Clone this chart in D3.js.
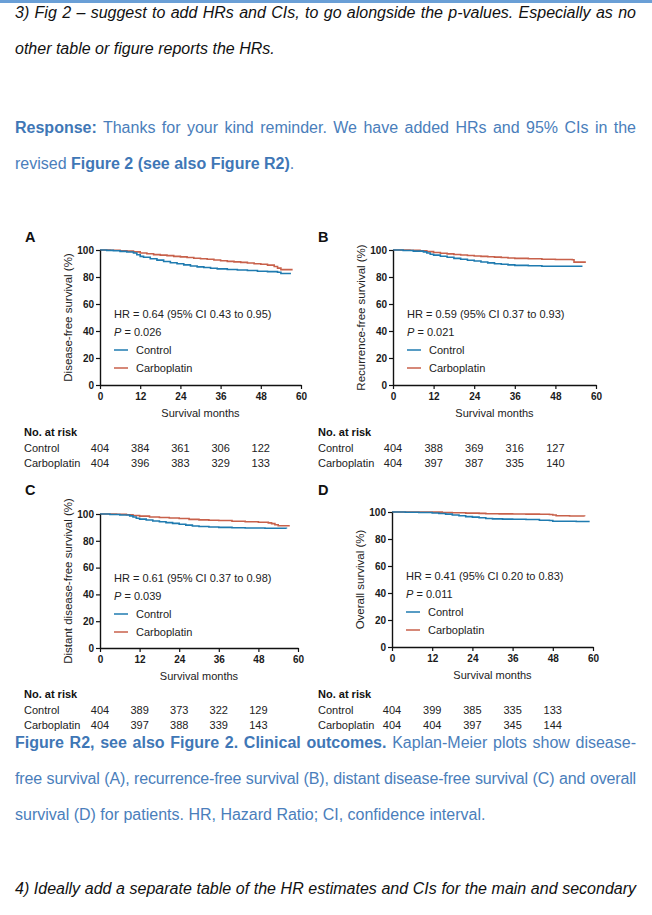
<!DOCTYPE html>
<html>
<head>
<meta charset="utf-8">
<script src="https://cdn.jsdelivr.net/npm/d3@7"></script>
<style>
  body { margin: 0; width: 652px; height: 915px; position: relative; background: #fff; overflow: hidden;
         font-family: "Liberation Sans", Arial, sans-serif; }
  #bar { position: absolute; left: 0; top: 0; width: 652px; height: 3px; background: #6a9fd6; }
  .para { position: absolute; left: 15px; width: 621px; font-size: 16px; line-height: 36px; }
  .j { text-align: justify; text-align-last: justify; }
  .tight { letter-spacing: -0.15px; }
  .q { font-style: italic; color: #111; }
  .blue { color: #4a7ebb; }
  .blue b { color: #3f77b6; }
  svg { position: absolute; left: 0; top: 0; }
</style>
</head>
<body>
<div id="bar"></div>
<div class="para q" style="top:-5px">
  <div class="j">3) Fig 2 – suggest to add HRs and CIs, to go alongside the p-values. Especially as no</div>
  <div>other table or figure reports the HRs.</div>
</div>
<div class="para blue" style="top:110px">
  <div class="j"><b>Response:</b> Thanks for your kind reminder. We have added HRs and 95% CIs in the</div>
  <div>revised <b>Figure 2 (see also Figure R2)</b>.</div>
</div>
<div class="para blue" style="top:725px">
  <div class="j"><b>Figure R2, see also Figure 2. Clinical outcomes.</b> Kaplan-Meier plots show disease-</div>
  <div class="j tight">free survival (A), recurrence-free survival (B), distant disease-free survival (C) and overall</div>
  <div>survival (D) for patients. HR, Hazard Ratio; CI, confidence interval.</div>
</div>
<div class="para q" style="top:871px">
  <div class="j">4) Ideally add a separate table of the HR estimates and CIs for the main and secondary</div>
</div>
<div id="chart"></div>
<script>
// shared axis values
var months = [0, 12, 24, 36, 48, 60];
var riskMonths = [0, 12, 24, 36, 48];
var yTicks = [0, 20, 40, 60, 80, 100];
var groups = ["Control", "Carboplatin"];
var colors = ["#1f7bb0", "#c8614b"];

// curves: [month, survival %]
var dfsControl = [[0,100],[2,99.7],[4,99.4],[6,99],[8,98.5],[10,97.8],[11,96.5],[12,95.3],[13,94.6],[15,93.5],[17,92.5],[19,91.5],[21,90.6],[23,89.8],[25,89],[27,88.2],[29,87.5],[31,87],[33,86.5],[35,86],[38,85.6],[41,85.2],[44,84.8],[47,84.3],[50,84],[53,83.5],[54,82.6],[57,82.6]];
var dfsCarbo = [[0,100],[3,99.8],[6,99.5],[8,99.2],[10,98.6],[12,97.8],[14,97.2],[16,96.6],[18,96.2],[20,95.8],[22,95.3],[24,94.9],[26,94.4],[28,93.9],[30,93.5],[32,93.1],[34,92.6],[36,92],[38,91.6],[40,91.2],[42,90.8],[44,90.4],[46,89.8],[48,89.4],[50,88.8],[52,87.8],[53,86.6],[54,85.5],[57.5,85.5]];

var rfsControl = [[0,100],[3,99.6],[6,99.2],[9,98.6],[10,97.8],[11,96.8],[12,96.2],[14,95.4],[16,94.6],[18,93.8],[20,93.1],[22,92.4],[24,91.8],[26,91.1],[28,90.5],[30,89.8],[32,89.4],[34,89],[36,88.6],[40,88.3],[44,88],[50,88],[56,88]];
var rfsCarbo = [[0,100],[5,99.8],[8,99.5],[10,98.8],[12,98.2],[14,97.6],[16,97.1],[18,96.7],[20,96.3],[22,95.9],[24,95.6],[26,95.3],[28,95],[30,94.7],[32,94.4],[34,94.1],[36,93.8],[40,93.5],[44,93.2],[48,93],[53,92.8],[53.5,91],[57,91]];

var ddfsControl = [[0,100],[3,99.6],[6,99.2],[9,98.6],[10,97.8],[11,96.8],[12,96.2],[14,95.5],[16,94.8],[18,94.2],[20,93.6],[22,93],[24,92.4],[26,91.7],[28,91.1],[30,90.7],[33,90.3],[36,90],[40,89.7],[44,89.5],[50,89.4],[56.5,89.2]];
var ddfsCarbo = [[0,100],[5,99.8],[8,99.4],[10,98.9],[12,98.4],[15,97.8],[18,97.4],[21,97],[24,96.6],[27,96],[30,95.6],[33,95.3],[36,95.1],[40,94.6],[44,94.2],[48,93.8],[51,93.4],[52,92.8],[53,92],[54,91.2],[57.5,91.2]];

var osControl = [[0,100],[4,99.8],[8,99.6],[12,99.3],[14,98.9],[16,98.4],[18,97.8],[20,97.2],[22,96.6],[24,96.2],[26,95.7],[28,95.2],[30,94.9],[33,94.7],[36,94.6],[40,94.5],[43,94.4],[44,93.9],[47,93.7],[48,93.2],[52,93.1],[55,93],[59,93]];
var osCarbo = [[0,100],[12,99.9],[15,99.6],[18,99.4],[22,99.2],[26,99],[28,98.7],[32,98.6],[36,98.5],[40,98.4],[44,98.3],[47,98.2],[48,97.8],[49,97.2],[53,97],[57.5,96.8]];

// numbers at risk
var riskA = [[404, 384, 361, 306, 122], [404, 396, 383, 329, 133]];
var riskB = [[404, 388, 369, 316, 127], [404, 397, 387, 335, 140]];
var riskC = [[404, 389, 373, 322, 129], [404, 397, 388, 339, 143]];
var riskD = [[404, 399, 385, 335, 133], [404, 404, 397, 345, 144]];

var panelLetters = ["A", "B", "C", "D"];
var yLabels = ["Disease-free survival (%)", "Recurrence-free survival (%)",
               "Distant disease-free survival (%)", "Overall survival (%)"];
var hrTexts = ["HR = 0.64 (95% CI 0.43 to 0.95)", "HR = 0.59 (95% CI 0.37 to 0.93)",
               "HR = 0.61 (95% CI 0.37 to 0.98)", "HR = 0.41 (95% CI 0.20 to 0.83)"];
var pValues = ["0.026", "0.021", "0.039", "0.011"];
var curves = [[dfsControl, dfsCarbo], [rfsControl, rfsCarbo], [ddfsControl, ddfsCarbo], [osControl, osCarbo]];
var risks = [riskA, riskB, riskC, riskD];

// where each panel sits on the page
var layout = [
  {x0: 100, x1: 301, y0: 250, y1: 385, lx: 25, ly: 242, tx: 24, ty: 436},
  {x0: 393, x1: 596, y0: 250, y1: 385, lx: 318, ly: 242, tx: 318, ty: 436},
  {x0: 100, x1: 298, y0: 514, y1: 648, lx: 25, ly: 495, tx: 24, ty: 698},
  {x0: 392, x1: 593, y0: 512, y1: 647, lx: 318, ly: 495, tx: 318, ty: 698}
];

var font = '"Liberation Sans", Arial, sans-serif';
var svg = d3.select("#chart").append("svg").attr("width", 652).attr("height", 915)
  .style("font-family", font);

function drawPanel(i) {
  var b = layout[i];
  var g = svg.append("g");
  var x = d3.scaleLinear().domain([0, 60]).range([b.x0, b.x1]);
  var y = d3.scaleLinear().domain([0, 100]).range([b.y1, b.y0]);

  g.append("text").attr("x", b.lx).attr("y", b.ly).text(panelLetters[i])
    .style("font-weight", "bold").style("font-size", "14.5px").attr("fill", "#111");

  var line = d3.line().x(d => x(d[0])).y(d => y(d[1])).curve(d3.curveStepAfter);
  // carboplatin first so control sits on top where they overlap
  [1, 0].forEach(function (k) {
    g.append("path").datum(curves[i][k]).attr("d", line)
      .attr("fill", "none").attr("stroke", colors[k]).attr("stroke-width", 1.6);
  });

  var ya = g.append("g").attr("transform", "translate(" + b.x0 + ",0)")
    .call(d3.axisLeft(y).tickValues(yTicks).tickSize(4).tickSizeOuter(0).tickPadding(2));
  var xa = g.append("g").attr("transform", "translate(0," + b.y1 + ")")
    .call(d3.axisBottom(x).tickValues(months).tickSize(4).tickSizeOuter(0).tickPadding(4));
  [ya, xa].forEach(function (a) {
    a.select(".domain").attr("stroke", "#111").attr("stroke-width", 1.4);
    a.selectAll(".tick line").attr("stroke", "#111").attr("stroke-width", 1.2);
    a.selectAll("text").attr("fill", "#1a1a1a").style("font-weight", "bold")
      .style("font-size", "10px").style("font-family", font);
  });

  g.append("text").attr("x", (b.x0 + b.x1) / 2).attr("y", b.y1 + 32)
    .attr("text-anchor", "middle").style("font-size", "11px").attr("fill", "#222")
    .text("Survival months");
  g.append("text")
    .attr("transform", "translate(" + (b.x0 - 28) + "," + ((b.y0 + b.y1) / 2) + ") rotate(-90)")
    .attr("text-anchor", "middle").style("font-size", "11.5px").attr("fill", "#222")
    .text(yLabels[i]);

  // stats and legend
  var lx = b.x0 + 14;
  g.append("text").attr("x", lx).attr("y", b.y0 + 68).style("font-size", "11px")
    .attr("fill", "#222").text(hrTexts[i]);
  var pt = g.append("text").attr("x", lx).attr("y", b.y0 + 86).style("font-size", "11px").attr("fill", "#222");
  pt.append("tspan").style("font-style", "italic").text("P");
  pt.append("tspan").text(" = " + pValues[i]);
  groups.forEach(function (name, k) {
    var yy = b.y0 + 104 + k * 18;
    g.append("line").attr("x1", lx).attr("x2", lx + 14).attr("y1", yy - 4).attr("y2", yy - 4)
      .attr("stroke", colors[k]).attr("stroke-width", 1.5);
    g.append("text").attr("x", lx + 22).attr("y", yy).style("font-size", "11px")
      .attr("fill", "#222").text(name);
  });

  // numbers at risk
  g.append("text").attr("x", b.tx).attr("y", b.ty).style("font-size", "11px")
    .style("font-weight", "bold").attr("fill", "#111").text("No. at risk");
  groups.forEach(function (name, k) {
    var ry = b.ty + 15.5 * (k + 1);
    g.append("text").attr("x", b.tx).attr("y", ry).style("font-size", "11px")
      .attr("fill", "#222").text(name);
    g.selectAll(null).data(risks[i][k]).enter().append("text")
      .attr("x", (d, j) => x(riskMonths[j])).attr("y", ry)
      .attr("text-anchor", "middle").style("font-size", "11px").attr("fill", "#222")
      .text(d => d);
  });
}

for (var i = 0; i < 4; i++) drawPanel(i);
</script>
</body>
</html>
